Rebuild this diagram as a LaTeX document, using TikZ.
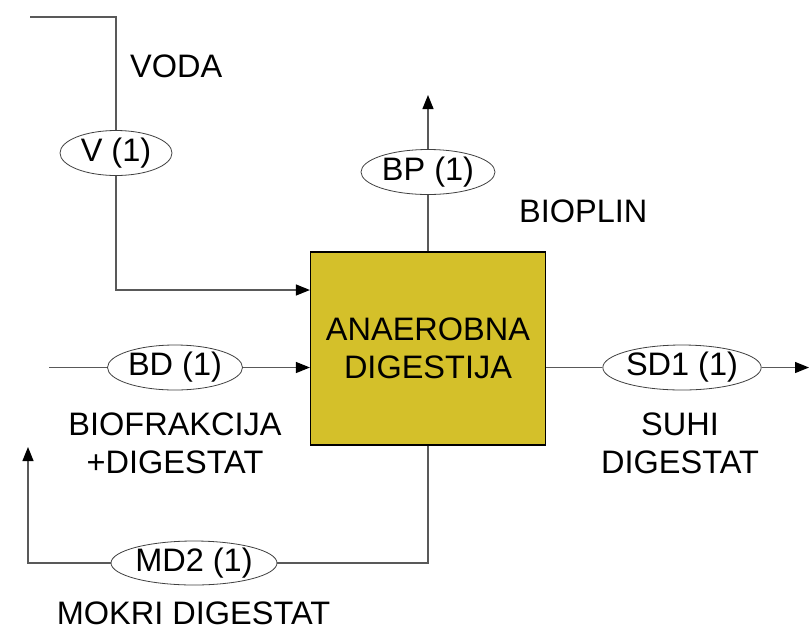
\documentclass[tikz,border=0pt]{standalone}
\usepackage{fontspec}
\setmainfont{Liberation Sans}
\usetikzlibrary{arrows.meta,positioning,shapes.geometric}
\definecolor{digfill}{RGB}{212,192,42}

\begin{document}
\begin{tikzpicture}[x=1pt,y=-1pt,font=\fontsize{32.5}{38}\selectfont,
  >={Triangle[length=14pt,width=11pt,color=black]},
  flow/.style={draw=black!65,line width=1.2pt},
  tok/.style={draw=black!75,line width=0.8pt,fill=white,ellipse,inner sep=0pt,
              minimum height=45pt},
  lbl/.style={inner sep=0pt,align=center}]
\useasboundingbox (0,0) rectangle (809,633);
% process block
\node[draw=black,line width=1.2pt,fill=digfill,minimum width=235pt,
      minimum height=193pt,align=center,inner sep=0pt] (dig) at (428,348.5)
      {ANAEROBNA\\DIGESTIJA};
% stream tokens
\node[tok,minimum width=112pt] (v) at (116,153) {V (1)};
\node[tok,minimum width=134pt] (bp) at (428,172) {BP (1)};
\node[tok,minimum width=135pt] (bd) at (175,367.5) {BD (1)};
\node[tok,minimum width=153pt] (sd) at (682,367.5) {SD1 (1)};
\node[tok,minimum width=159pt,minimum height=44pt] (md) at (194,563) {MD2 (1)};
% free ends
\coordinate (vsrc) at (30,17);
\coordinate (bpout) at (428,95);
\coordinate (bdsrc) at (49,367.5);
\coordinate (sdout) at (809,367.5);
\coordinate (mdout) at (28,447);
% connectors
\draw[flow] (vsrc) -| (v);
\draw[flow,->] (v) |- ([yshift=58.5pt]dig.west);
\draw[flow] (dig.north) -- (bp);
\draw[flow,->] (bp) -- (bpout);
\draw[flow] (bdsrc) -- (bd);
\draw[flow,->] (bd) -- (bd -| dig.west);
\draw[flow] (dig.east |- sd) -- (sd);
\draw[flow,->] (sd) -- (sdout);
\draw[flow] (dig.south) |- (md);
\draw[flow,->] (md) -| (mdout);
% stream labels
\node[lbl,anchor=base west] (voda) at (130,77) {VODA};
\node[lbl,anchor=base west] (bioplin) at (519,222.7) {BIOPLIN};
\node[lbl] (biofr) at (175,443.5) {BIOFRAKCIJA\\+DIGESTAT};
\node[lbl] (suhi) at (680,443.5) {SUHI\\DIGESTAT};
\node[lbl,anchor=base] (mokri) at (193.5,624) {MOKRI DIGESTAT};
\end{tikzpicture}
\end{document}
